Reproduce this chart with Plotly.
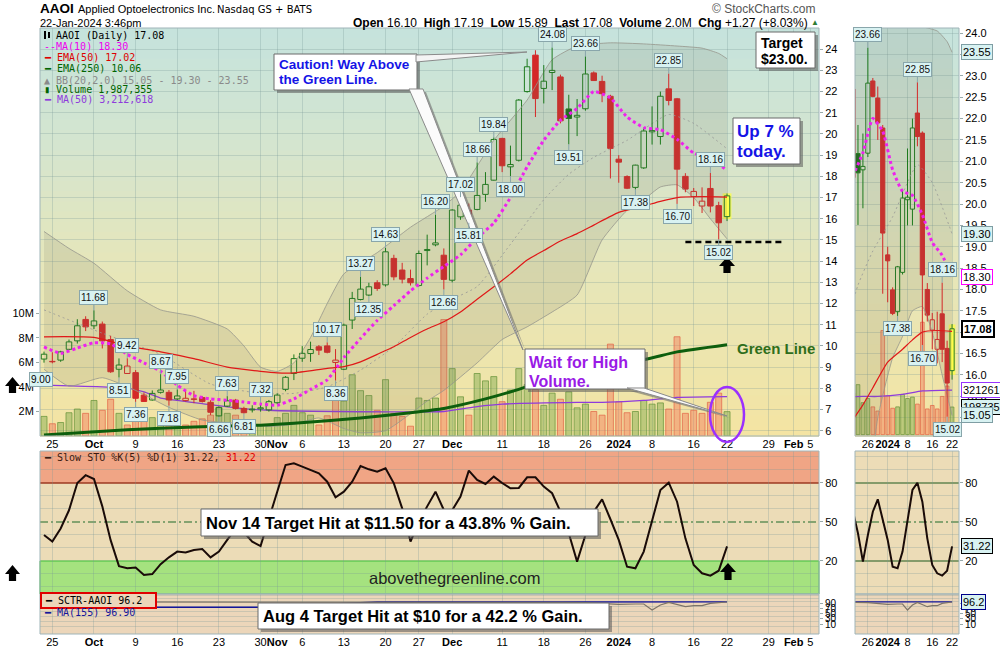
import plotly.graph_objects as go
import pandas as pd

W, H = 1000, 650
SANS = "Liberation Sans, Arial, sans-serif"
MONO = "DejaVu Sans Mono, monospace"
VERD = "DejaVu Sans, Verdana, sans-serif"

# ----------------------------- data -----------------------------
HOLIDAYS = ["2023-11-23", "2023-12-25", "2024-01-01", "2024-01-15"]
DAYS = [d.strftime("%Y-%m-%d") for d in pd.bdate_range("2023-09-22", "2024-02-06")
        if d.strftime("%Y-%m-%d") not in HOLIDAYS]

OPEN = [9.38, 9.27, 9.33, 9.84, 10.24, 11.25, 10.95, 11.03, 10.30, 8.90,
        8.70, 8.74, 7.68, 7.45, 7.81, 7.81, 7.50, 7.42, 7.50, 7.56,
        7.34, 6.70, 7.16, 7.44, 7.05, 6.98, 7.03, 6.98, 7.32, 7.95,
        8.70, 9.42, 9.64, 9.96, 10.00, 9.22, 8.90, 11.22, 12.19, 12.40,
        12.98, 12.88, 14.13, 13.58, 13.18, 12.85, 14.50, 14.77, 14.28, 13.10,
        16.09, 16.41, 16.44, 17.15, 17.82, 19.79, 18.45, 18.76, 22.00, 23.72,
        22.15, 22.90, 22.69, 21.18, 20.80, 21.19, 22.88, 22.48, 21.78, 18.81,
        17.99, 17.48, 18.40, 20.10, 19.88, 22.13, 21.66, 18.00, 17.05, 16.60,
        17.43, 16.62, 16.10]
HIGH = [9.73, 9.70, 9.77, 10.30, 11.26, 11.40, 11.68, 11.15, 10.48, 9.41,
        9.42, 8.86, 7.80, 7.90, 8.67, 7.92, 7.95, 7.90, 7.88, 7.64,
        7.44, 7.15, 7.63, 7.50, 7.13, 7.20, 7.32, 7.45, 7.76, 8.58,
        9.60, 9.99, 10.20, 10.04, 10.17, 9.85, 11.05, 12.55, 13.27, 12.98,
        13.10, 14.63, 14.30, 13.92, 13.60, 14.50, 15.25, 16.20, 14.60, 16.45,
        17.02, 16.72, 18.66, 18.20, 19.84, 19.82, 19.45, 21.65, 23.55, 23.95,
        23.25, 24.08, 22.80, 21.85, 21.65, 23.66, 22.95, 22.75, 21.85, 19.00,
        18.05, 18.55, 20.30, 21.30, 22.00, 22.85, 21.70, 18.15, 17.45, 17.48,
        18.16, 16.80, 17.19]
LOW = [9.21, 9.18, 9.25, 9.80, 10.11, 10.70, 10.80, 9.88, 8.73, 8.51,
       8.68, 7.36, 7.37, 7.42, 7.75, 7.18, 7.45, 7.38, 7.30, 7.33,
       6.74, 6.66, 7.12, 7.00, 6.81, 6.86, 6.90, 6.90, 7.25, 7.86,
       8.39, 9.25, 9.25, 9.57, 9.65, 8.36, 8.86, 10.80, 12.15, 12.35,
       12.60, 12.80, 13.10, 12.95, 12.85, 12.80, 13.80, 14.70, 12.66, 13.00,
       15.95, 15.81, 16.40, 16.80, 17.80, 18.20, 18.00, 18.70, 21.95, 20.80,
       21.44, 22.07, 20.50, 19.51, 19.90, 21.10, 22.50, 21.50, 17.90, 17.70,
       17.40, 17.38, 18.35, 19.50, 19.50, 21.35, 16.70, 17.25, 16.60, 16.27,
       16.30, 15.02, 15.89]
CLOSE = [9.61, 9.25, 9.72, 10.19, 10.95, 10.90, 11.18, 10.24, 8.78, 9.10,
         9.05, 7.53, 7.38, 7.76, 7.92, 7.45, 7.64, 7.53, 7.48, 7.38,
         6.87, 7.10, 7.41, 7.05, 6.85, 7.02, 7.08, 7.37, 7.68, 8.52,
         9.40, 9.65, 9.83, 9.80, 9.70, 9.33, 10.98, 12.24, 12.68, 12.79,
         12.71, 14.44, 13.26, 13.15, 12.98, 14.36, 14.55, 14.86, 13.14, 16.41,
         16.64, 16.09, 17.10, 17.62, 19.74, 18.50, 18.56, 21.60, 23.17, 21.67,
         22.49, 23.00, 20.62, 20.73, 20.88, 22.83, 22.52, 21.90, 19.32, 18.67,
         17.44, 18.53, 20.14, 20.16, 21.78, 21.58, 18.34, 17.40, 17.29, 16.83,
         16.60, 15.81, 17.08]
PREV_CLOSE = 9.45
VOLUME = [1.6, 1.0, 1.1, 1.9, 2.2, 1.85, 2.9, 2.1, 3.0, 1.85,
          0.9, 2.2, 2.3, 1.5, 1.3, 1.05, 1.2, 0.9, 1.2, 1.4,
          1.7, 2.3, 1.85, 1.7, 1.0, 0.6, 0.9, 0.8, 1.5, 1.85,
          2.5, 1.9, 1.7, 0.9, 1.65, 3.8, 2.85, 5.0, 3.7, 3.3,
          2.1, 4.6, 1.85, 1.6, 0.8, 3.1, 2.9, 3.1, 9.5, 5.5,
          3.2, 1.7, 5.1, 4.5, 4.85, 2.8, 3.75, 5.5, 4.2, 3.8,
          2.5, 3.5, 3.0, 3.6, 2.3, 2.6, 2.0, 1.7, 7.5, 2.8,
          1.9, 2.0, 2.9, 2.6, 2.7, 2.2, 8.1, 1.85, 2.1, 1.85,
          2.75, 3.5, 1.987355]  # millions

MA10_IDX = list(range(0, 83, 2))
MA10_VAL = [9.95, 9.65, 9.9, 10.15, 10.1, 9.6, 9.2, 8.8, 8.15, 7.65, 7.5, 7.44, 7.35, 7.26,
            7.2, 7.5, 7.95, 8.4, 9.45, 10.35, 11.2, 11.9, 12.6, 13.2, 13.75, 14.3, 15.1, 15.8,
            17.0, 18.45, 19.7, 20.65, 21.2, 22.0, 21.7, 20.8, 20.3, 20.2, 19.75, 19.1, 18.8, 18.30]
EMA50_IDX = [0, 6, 10, 14, 18, 22, 26, 28, 30, 34, 36, 38, 40, 42, 44, 46, 48, 50, 52, 54,
             56, 58, 60, 62, 64, 66, 69, 72, 74, 76, 79, 82]
EMA50_VAL = [10.43, 10.4, 10.0, 9.72, 9.4, 9.0, 8.8, 8.73, 8.73, 8.94, 9.02, 9.25, 9.6, 9.96,
             10.4, 10.8, 11.14, 11.6, 12.2, 12.79, 13.4, 14.05, 14.5, 14.95, 15.3, 15.7, 16.3,
             16.6, 16.82, 17.0, 17.04, 17.02]
EMA250_IDX = [0, 10, 18, 26, 30, 38, 44, 48, 53, 57, 62, 67, 72, 76, 82]
EMA250_VAL = [5.8, 6.05, 6.18, 6.26, 6.35, 6.6, 6.85, 7.05, 7.5, 7.95, 8.6, 9.1, 9.35, 9.72, 10.06]
BBU_IDX = [0, 3, 6, 10, 14, 18, 22, 24, 26, 28, 30, 32, 34, 36, 40, 44, 48, 50, 54, 58,
           61, 64, 68, 72, 76, 79, 81, 82]
BBU_VAL = [15.4, 14.6, 13.9, 12.6, 11.7, 11.4, 10.8, 10.0, 9.0, 8.8, 9.2, 10.4, 12.0, 13.4,
           14.4, 15.6, 16.6, 17.3, 19.7, 21.6, 23.5, 24.15, 24.3, 24.25, 24.15, 24.05, 23.8, 23.55]
BBL_IDX = [0, 3, 7, 11, 15, 19, 23, 27, 30, 33, 36, 38, 41, 44, 46, 48, 52, 55, 58, 61,
           64, 67, 70, 72, 74, 76, 78, 80, 82]
BBL_VAL = [8.9, 8.1, 8.5, 7.9, 7.1, 6.5, 6.35, 6.2, 6.3, 6.6, 6.1, 5.9, 6.0, 6.8, 7.4, 7.9,
           9.2, 10.3, 10.9, 11.6, 12.4, 15.0, 16.4, 16.9, 17.5, 17.6, 17.0, 16.0, 15.05]
BBM_IDX = [0, 7, 14, 20, 26, 30, 34, 38, 42, 46, 49, 52, 56, 60, 63, 66, 70, 75, 78, 82]
BBM_VAL = [11.7, 10.6, 9.6, 8.2, 7.76, 7.76, 8.07, 8.86, 9.96, 11.5, 12.2, 12.8, 14.8, 16.9,
           18.1, 18.9, 19.7, 20.92, 20.5, 19.30]
VOLMA_IDX = [0, 10, 12, 14, 16, 19, 23, 27, 35, 48, 52, 55, 64, 67, 72, 76, 82]
VOLMA_VAL = [4.15, 3.9, 3.6, 3.1, 2.9, 2.65, 2.3, 2.1, 2.0, 2.0, 2.4, 2.6, 2.75, 2.75, 2.9, 3.15, 3.212618]

STO = [40, 35, 45, 59, 80, 86, 83, 62, 36, 16,
       14.4, 14.9, 9.2, 9.9, 17.5, 22.8, 27.2, 26.6, 28.5, 29.2,
       22.8, 27.2, 36.2, 45, 42, 34.9, 31.5, 51.5, 73.3, 93.8,
       95.1, 92.6, 90.0, 87.4, 81.0, 69.0, 73.3, 81.0, 93.1, 90.5,
       88.7, 91.3, 79.7, 60.5, 34.9, 50, 62, 73.3, 59.2, 59,
       69.5, 89.5, 82.3, 79.2, 84.9, 80.0, 75.9, 76.2, 84.4, 84.4,
       77.2, 72.1, 57.9, 41.3, 19.5, 40, 57.9, 67.4, 52.1, 36.2,
       15.6, 14.4, 27.2, 50.2, 74.6, 80.2, 65.6, 37.4, 16.9, 10.5,
       8.7, 12.5, 31.22]
SCTR_IDX = [0, 6, 14, 18, 21, 24, 28, 32, 36, 40, 44, 48, 52, 55, 58, 62, 65, 67, 69, 71,
            72, 73, 74, 75, 76, 77, 78, 79, 80, 81, 82]
SCTR_VAL = [97, 97, 97, 96.5, 95, 96, 96, 97, 96, 96.5, 97, 96, 97, 97.5, 97, 95, 93.6, 91,
            87, 88.4, 88.4, 64.9, 84.4, 94.9, 86, 77.9, 81.8, 81.8, 91, 93.6, 96.2]
MA155_IDX = [0, 26, 40, 60, 82]
MA155_VAL = [75.5, 75.5, 96.0, 96.6, 96.9]

TICK_DATES = ["2023-09-25", "2023-10-02", "2023-10-09", "2023-10-16", "2023-10-23", "2023-10-30",
              "2023-11-01", "2023-11-06", "2023-11-13", "2023-11-20", "2023-11-27", "2023-12-01",
              "2023-12-11", "2023-12-18", "2023-12-26", "2024-01-02", "2024-01-08", "2024-01-16",
              "2024-01-22", "2024-01-29", "2024-02-01", "2024-02-05"]
TICK_TEXT = ["25", "<b>Oct</b>", "9", "16", "23", "30", "<b>Nov</b>", "6", "13", "20", "27",
             "<b>Dec</b>", "11", "18", "26", "<b>2024</b>", "8", "16", "22", "29", "<b>Feb</b>", "5"]
ZOOM_TICK_DATES = ["2023-12-26", "2024-01-02", "2024-01-08", "2024-01-16", "2024-01-22"]
ZOOM_TICK_TEXT = ["26", "<b>2024</b>", "8", "16", "22"]

HIGH_LABELS = [6, 10, 14, 16, 22, 26, 34, 38, 41, 47, 50, 52, 54, 61, 65, 75, 80]
LOW_LABELS = [9, 11, 15, 21, 24, 35, 39, 48, 51, 56, 63, 71, 76, 81]
ZOOM_HIGH_LABELS = [65, 75, 80]
ZOOM_LOW_LABELS = [71, 76, 81]

SUPPORT_LEVEL = 14.9
SUPPORT_FROM = DAYS.index("2024-01-12")
SUPPORT_TO = DAYS.index("2024-01-31")

# ----------------------------- helpers -----------------------------
N = len(CLOSE)
XI = list(range(N))
TICKS = [DAYS.index(d) for d in TICK_DATES]
ZTICKS = [DAYS.index(d) for d in ZOOM_TICK_DATES]

fig = go.Figure()


def prev_close(i):
    return CLOSE[i - 1] if i > 0 else PREV_CLOSE


def add_volume(xa, ya, width):
    cols, lcols = [], []
    for i in XI:
        if CLOSE[i] > prev_close(i):
            cols.append("rgba(125,168,75,0.45)"); lcols.append("rgba(100,145,55,0.7)")
        else:
            cols.append("rgba(242,120,88,0.45)"); lcols.append("rgba(225,100,70,0.7)")
    fig.add_trace(go.Bar(x=XI, y=VOLUME, width=width,
                         marker=dict(color=cols, line=dict(color=lcols, width=1)),
                         xaxis=xa, yaxis=ya, hoverinfo="skip"))


def add_line(xs, ys, xa, ya, color, width, dash=None, fill=None, fillcolor=None, shape="spline"):
    fig.add_trace(go.Scatter(x=xs, y=ys, mode="lines",
                             line=dict(color=color, width=width, dash=dash, shape=shape, smoothing=0.5),
                             fill=fill, fillcolor=fillcolor, xaxis=xa, yaxis=ya, hoverinfo="skip"))


def add_candles(xa, ya, width, glow):
    last = N - 1
    top, bot = max(OPEN[last], CLOSE[last]), min(OPEN[last], CLOSE[last])
    fig.add_trace(go.Bar(x=[last], y=[top - bot + 2 * glow], base=[bot - glow], width=width * 1.6,
                         marker=dict(color="rgba(255,255,60,0.75)", line=dict(width=0)),
                         xaxis=xa, yaxis=ya, hoverinfo="skip"))
    groups = {}
    for i in XI:
        o, h, l, c = OPEN[i], HIGH[i], LOW[i], CLOSE[i]
        up = c > prev_close(i)
        hollow = c >= o
        col = "#1d7a1d" if up else "#d42828"
        if i == last:
            key = ("#ffff4a", "#2a7a2a")
        else:
            fill = "rgba(0,0,0,0)" if hollow else ("#1b661b" if up else "#d42828")
            key = (fill, col)
        g = groups.setdefault(key, dict(x=[], y=[], base=[], wx=[], wy=[]))
        t, b = max(o, c), min(o, c)
        g["x"].append(i); g["base"].append(b); g["y"].append(max(t - b, 0.02))
        g["wx"] += [i, i, None, i, i, None]
        g["wy"] += [h, t, None, b, l, None]
    for (fill, col), g in groups.items():
        fig.add_trace(go.Scatter(x=g["wx"], y=g["wy"], mode="lines", line=dict(color=col, width=1),
                                 xaxis=xa, yaxis=ya, hoverinfo="skip"))
        fig.add_trace(go.Bar(x=g["x"], y=g["y"], base=g["base"], width=width,
                             marker=dict(color=fill, line=dict(color=col, width=1)),
                             xaxis=xa, yaxis=ya, hoverinfo="skip"))


def price_overlays(xa, ya, va, candle_w, glow):
    add_line(VOLMA_IDX, VOLMA_VAL, xa, va, "#8e3bdc", 1.3)
    add_line(BBU_IDX, BBU_VAL, xa, ya, "rgba(150,150,140,0.8)", 1)
    add_line(BBL_IDX, BBL_VAL, xa, ya, "rgba(150,150,140,0.8)", 1, fill="tonexty",
             fillcolor="rgba(110,110,95,0.14)")
    add_line(BBM_IDX, BBM_VAL, xa, ya, "rgba(150,150,150,0.8)", 1, dash="2px,3px")
    add_line(EMA250_IDX, EMA250_VAL, xa, ya, "#0d5e0d", 3)
    add_line(EMA50_IDX, EMA50_VAL, xa, ya, "#e01818", 1.2)
    add_candles(xa, ya, candle_w, glow)
    add_line(MA10_IDX, MA10_VAL, xa, ya, "#ee22ee", 3, dash="3px,3px")


add_volume("x", "y", 0.72)
price_overlays("x", "y2", "y", 0.66, 0.12)
add_volume("x4", "y5", 0.75)
price_overlays("x4", "y6", "y5", 0.85, 0.1)

for xa, ya in (("x2", "y3"), ("x5", "y7")):
    fig.add_trace(go.Scatter(x=XI, y=STO, mode="lines", line=dict(color="#1a0b08", width=2),
                             xaxis=xa, yaxis=ya, hoverinfo="skip"))
for xa, ya in (("x3", "y4"), ("x6", "y8")):
    add_line(MA155_IDX, MA155_VAL, xa, ya, "#15159a", 1.4, shape="linear")
    add_line(SCTR_IDX, SCTR_VAL, xa, ya, "#7d7468", 1.2, shape="linear")

# ----------------------------- layout -----------------------------
MAIN_X = [40 / W, 819 / W]
ZOOM_X = [855 / W, 959 / W]
MAIN_Y = [1 - 436 / H, 1 - 28 / H]
STO_Y = [1 - 594 / H, 1 - 451 / H]
SCTR_Y = [1 - 634 / H, 1 - 594 / H]
XR = [-0.48, 93.04]
ZR = [62.4, 83.4]
GRID = "rgba(120,150,150,0.28)"
TF = dict(size=11, family=SANS, color="#000")


def xax(domain, anchor, rng, tv, tt, labels):
    return dict(domain=domain, anchor=anchor, range=rng, tickvals=tv, ticktext=tt,
                showticklabels=labels, ticks="", showgrid=True, gridcolor=GRID, gridwidth=1,
                zeroline=False, showline=False, tickfont=TF, fixedrange=True, automargin=False,
                tickangle=0)


def yax(domain, anchor, rng, tv, tt=None, side="right", grid=False, labels=True, size=11,
        overlaying=None, minor=None):
    d = dict(anchor=anchor, range=rng, tickvals=tv, side=side, showgrid=grid, gridcolor=GRID,
             zeroline=False, showline=False, ticks="outside" if labels else "", ticklen=3,
             tickcolor="#9aa", showticklabels=labels, tickfont=dict(size=size, family=SANS, color="#000"),
             fixedrange=True, automargin=False, tickangle=0)
    if tt is not None:
        d["ticktext"] = tt
    if overlaying:
        d["overlaying"] = overlaying
    else:
        d["domain"] = domain
    if minor:
        d["minor"] = dict(tickvals=minor, showgrid=True, gridcolor=GRID, ticks="")
    return d


ZP = [15.0 + 0.5 * k for k in range(19)]
fig.update_layout(
    width=W, height=H, margin=dict(l=0, r=0, t=0, b=0, autoexpand=False), paper_bgcolor="white",
    plot_bgcolor="rgba(0,0,0,0)", showlegend=False, barmode="overlay", hovermode=False,
    font=dict(family=SANS, size=11, color="#000"),
    xaxis=xax(MAIN_X, "y", XR, TICKS, TICK_TEXT, True),
    xaxis2=xax(MAIN_X, "y3", XR, TICKS, TICK_TEXT, False),
    xaxis3=xax(MAIN_X, "y4", XR, TICKS, TICK_TEXT, True),
    xaxis4=xax(ZOOM_X, "y5", ZR, ZTICKS, ZOOM_TICK_TEXT, True),
    xaxis5=xax(ZOOM_X, "y7", ZR, ZTICKS, ZOOM_TICK_TEXT, False),
    xaxis6=xax(ZOOM_X, "y8", ZR, ZTICKS, ZOOM_TICK_TEXT, True),
    yaxis=yax(MAIN_Y, "x", [0, 33.3], [2, 4, 6, 8, 10], ["2M", "4M", "6M", "8M", "10M"], side="left"),
    yaxis2=yax(None, "x", [5.75, 25.0], list(range(6, 25)), grid=True, overlaying="y"),
    yaxis3=yax(STO_Y, "x2", [-5.4, 104.6], [20, 50, 80], minor=[0, 10, 30, 40, 60, 70, 90, 100]),
    yaxis4=yax(SCTR_Y, "x3", [-29, 127.6], [10, 30, 50, 70, 90], size=10,
               minor=[0, 20, 40, 60, 80, 100, 110, 120]),
    yaxis5=yax(MAIN_Y, "x4", [-0.1, 29.3], [], labels=False),
    yaxis6=yax(None, "x4", [14.57, 24.12], ZP, [f"{v:.1f}" for v in ZP], grid=True, overlaying="y5"),
    yaxis7=yax(STO_Y, "x5", [-5.4, 104.6], [20, 50, 80], minor=[0, 10, 30, 40, 60, 70, 90, 100]),
    yaxis8=yax(SCTR_Y, "x6", [-29, 127.6], [10, 30, 50, 70, 90], size=10,
               minor=[0, 20, 40, 60, 80, 100, 110, 120]),
)


# ----------------------------- shapes -----------------------------
def rect(x0, y0, x1, y1, fill, lc=None, lw=0, layer="above"):
    return dict(type="rect", xref="paper", yref="paper", x0=x0 / W, x1=x1 / W, y0=1 - y1 / H,
                y1=1 - y0 / H, fillcolor=fill, line=dict(color=lc or "rgba(0,0,0,0)", width=lw),
                layer=layer)


def poly(pts, fill, lc=None, lw=0, layer="above"):
    path = "M " + " L ".join(f"{x / W:.5f},{1 - y / H:.5f}" for x, y in pts) + " Z"
    return dict(type="path", xref="paper", yref="paper", path=path, fillcolor=fill,
                line=dict(color=lc or "rgba(0,0,0,0)", width=lw), layer=layer)


STOPS = [(28, (197, 227, 221)), (150, (213, 229, 206)), (260, (229, 230, 187)), (436, (244, 228, 162))]


def lerp(y):
    for (y0, c0), (y1, c1) in zip(STOPS, STOPS[1:]):
        if y0 <= y <= y1:
            t = (y - y0) / (y1 - y0)
            return "rgb(%d,%d,%d)" % tuple(round(a + (b - a) * t) for a, b in zip(c0, c1))
    return "rgb(%d,%d,%d)" % STOPS[-1][1]


def gradient(x0, x1, y0, y1, n=40):
    out = []
    step = (y1 - y0) / n
    for k in range(n):
        ya = y0 + k * step
        out.append(rect(x0, ya, x1, ya + step + 0.7, lerp(ya + step / 2), layer="below"))
    return out


def up_arrow(cx, top, bottom, hw=8, sw=3.6, head=9):
    return poly([(cx, top), (cx + hw, top + head), (cx + sw, top + head), (cx + sw, bottom),
                 (cx - sw, bottom), (cx - sw, top + head), (cx - hw, top + head)], "#000")


def hline(xref, yref, y, color, width, dash=None, x0=0, x1=1):
    return dict(type="line", xref=xref, yref=yref, x0=x0, x1=x1, y0=y, y1=y,
                line=dict(color=color, width=width, dash=dash), layer="below")


def callout(x0, y0, x1, y1):
    return [rect(x0 + 3, y0 + 3, x1 + 3, y1 + 3, "rgba(90,90,90,0.55)"),
            rect(x0, y0, x1, y1, "white", "#6a6a6a", 1)]


S = []
S += gradient(40, 819, 28, 436)
S += gradient(855, 959, 28, 436)
for x0, x1 in ((40, 819), (855, 959)):
    S.append(rect(x0, 451, x1, 594, "#ecdcb7", layer="below"))
    S.append(rect(x0, 594, x1, 634, "#ecd6ba", layer="below"))
S.append(dict(type="rect", xref="x2 domain", yref="y3", x0=0, x1=1, y0=80, y1=104.6,
              fillcolor="#f0a585", line=dict(width=0), layer="below"))
S.append(dict(type="rect", xref="x2 domain", yref="y3", x0=0, x1=1, y0=-5.4, y1=20,
              fillcolor="#a5e27f", line=dict(color="#3dbb3d", width=1), layer="below"))
S.append(hline("x2 domain", "y3", 80, "#9c3a22", 1.4))
S.append(hline("x2 domain", "y3", 50, "#1f6b2a", 1.2, "8px,3px,2px,3px"))
S.append(hline("x5 domain", "y7", 80, "#1f5a1f", 1.2))
S.append(hline("x5 domain", "y7", 20, "#1f5a1f", 1.2))
S.append(hline("x5 domain", "y7", 50, "#1f6b2a", 1.2, "8px,3px,2px,3px"))
for x0, x1 in ((40, 819), (855, 959)):
    S.append(rect(x0, 28, x1, 436, "rgba(0,0,0,0)", "#9fb4b8", 1))
    S.append(rect(x0, 451, x1, 634, "rgba(0,0,0,0)", "#9fb4b8", 1))
    S.append(rect(x0, 594, x1, 594.01, "rgba(0,0,0,0)", "#9fb4b8", 1))
S.append(dict(type="line", xref="x", yref="y2", x0=SUPPORT_FROM, x1=SUPPORT_TO, y0=SUPPORT_LEVEL,
              y1=SUPPORT_LEVEL, line=dict(color="#000", width=2.5, dash="6px,4px"), layer="above"))
S += callout(274, 54, 417, 90)
S.append(poly([(416, 55), (527, 52), (416, 62)], "#f4f4f4", "#8a8a8a", 1))
S.append(poly([(413, 92), (426, 92), (526, 352)], "rgba(110,110,110,0.6)"))
S.append(poly([(409, 89), (423, 89), (523, 350)], "#fbfbfb", "#8a8a8a", 1))
S += callout(756, 32, 815, 68)
S += callout(733, 118, 800, 164)
S += callout(525, 349, 645, 389)
S.append(poly([(630, 391), (647, 391), (730, 418)], "rgba(110,110,110,0.6)"))
S.append(poly([(627, 388), (644, 388), (727, 416)], "#fbfbfb", "#8a8a8a", 1))
S += callout(201, 509, 598, 536)
S += callout(258, 603, 609, 629)
S.append(rect(41, 593, 156, 608, "#ecd6ba", "#e00000", 2))
S.append(dict(type="circle", xref="paper", yref="paper", x0=710 / W, x1=744 / W, y0=1 - 442 / H,
              y1=1 - 387 / H, line=dict(color="#9b30ff", width=2.5), layer="above"))
S.append(up_arrow(727, 257, 273))
S.append(up_arrow(728, 563, 580))
S.append(up_arrow(12.5, 377, 393, hw=7.5))
S.append(up_arrow(12.5, 565, 581, hw=7.5))
S.append(rect(44, 31, 46, 39, "#000"))
S.append(rect(48, 32, 50, 38, "#000"))
fig.update_layout(shapes=S)

# ----------------------------- annotations -----------------------------
A = []


def txt(t, x, y, size, color="#000", family=SANS, xanchor="left", **kw):
    A.append(dict(text=t, x=x / W, y=1 - y / H, xref="paper", yref="paper", xanchor=xanchor,
                  yanchor="middle", showarrow=False, font=dict(size=size, color=color, family=family), **kw))


chg = CLOSE[-1] - CLOSE[-2]
pct = chg / CLOSE[-2] * 100
txt("<b>AAOI</b>", 38, 9, 13.5)
txt("Applied Optoelectronics Inc.", 76, 9.5, 11)
txt("Nasdaq GS + BATS", 215, 10, 10, family=VERD)
txt("22-Jan-2024 3:46pm", 38, 23, 11)
sp = "&#160; "
txt(f"<b>Open</b> {OPEN[-1]:.2f}{sp}<b>High</b> {HIGH[-1]:.2f}{sp}<b>Low</b> {LOW[-1]:.2f}{sp}"
    f"<b>Last</b> {CLOSE[-1]:.2f}{sp}<b>Volume</b> {VOLUME[-1]:.1f}M{sp}<b>Chg</b> {chg:+.2f} ({pct:+.2f}%)",
    810, 23, 12, xanchor="right")
txt("▲", 815, 22, 8, color="#2e7d32", xanchor="center")
txt("© StockCharts.com", 818, 9, 12, color="#555", xanchor="right")

LEG_Y = [35, 46.3, 57.3, 68.7, 80, 90, 99.3]
txt(f"AAOI (Daily) {CLOSE[-1]:.2f}", 54, LEG_Y[0], 10, family=MONO)
txt(f"--MA(10) {MA10_VAL[-1]:.2f}", 42, LEG_Y[1], 10, color="#ee00ee", family=MONO)
txt(f"━ EMA(50) {EMA50_VAL[-1]:.2f}", 42, LEG_Y[2], 10, color="#dd0000", family=MONO)
txt(f"━ EMA(250) {EMA250_VAL[-1]:.2f}", 42, LEG_Y[3], 10, color="#006400", family=MONO)
txt(f"▲ BB(20,2.0) {BBL_VAL[-1]:.2f} - {BBM_VAL[-1]:.2f} - {BBU_VAL[-1]:.2f}", 42, LEG_Y[4], 10,
    color="#8a8a8a", family=MONO)
txt(f"▮ Volume {VOLUME[-1] * 1e6:,.0f}", 42, LEG_Y[5], 10, color="#006400", family=MONO)
txt(f"━ MA(50) {VOLMA_VAL[-1] * 1e6:,.0f}", 42, LEG_Y[6], 10, color="#8e3bdc", family=MONO)
txt(f"━ Slow STO %K(5) %D(1) {STO[-1]:.2f}, <span style='color:#e00000'>{STO[-1]:.2f}</span>",
    42, 457, 10, color="#3a1a10", family=MONO)
txt(f"━ SCTR-AAOI {SCTR_VAL[-1]:.1f}", 43, 600.5, 10, family=MONO)
txt(f"━ MA(155) {MA155_VAL[-1]:.2f}", 42, 612, 10, color="#15159a", family=MONO)

BLUE = "#1414e6"
txt("<b>Caution! Way Above</b>", 277, 64, 13.5, color=BLUE)
txt("<b>the Green Line.</b>", 277, 79, 13.5, color=BLUE)
txt("<b>Target</b>", 759, 43, 14)
txt("<b>$23.00.</b>", 759, 59, 14)
txt("<b>Up 7 %</b>", 735, 131, 17, color=BLUE)
txt("<b>today.</b>", 735, 152, 17, color=BLUE)
txt("<b>Wait for High</b>", 527, 362, 16, color="#9a1ae6")
txt("<b>Volume.</b>", 527, 381, 16, color="#9a1ae6")
txt("<b>Green Line</b>", 735, 348, 15, color="#2f6e1b")
txt("<b>Nov 14 Target Hit at $11.50 for a 43.8% % Gain.</b>", 204, 522.5, 16.5)
txt("<b>Aug 4 Target Hit at $10 for a 42.2 % Gain.</b>", 261, 616, 16.5)
txt("abovethegreenline.com", 455, 578, 16.5, color="#222", xanchor="center")
txt("9.00", 40.5, 379, 10, xanchor="center", bgcolor="#d8f2f2", bordercolor="#89a6ab",
    borderwidth=1, borderpad=1)

LBL = dict(showarrow=True, arrowhead=0, arrowwidth=1, arrowcolor="#89a6ab", ax=0,
           bgcolor="#d8f2f2", bordercolor="#89a6ab", borderwidth=1, borderpad=1,
           font=dict(size=10, family=SANS, color="#111"))


def price_label(i, above, xref, yref):
    v = HIGH[i] if above else LOW[i]
    A.append(dict(x=i, y=v, xref=xref, yref=yref, text=f"{v:.2f}", ay=-13 if above else 13, **LBL))


for i in HIGH_LABELS:
    price_label(i, True, "x", "y2")
for i in LOW_LABELS:
    price_label(i, False, "x", "y2")
for i in ZOOM_HIGH_LABELS:
    price_label(i, True, "x4", "y6")
for i in ZOOM_LOW_LABELS:
    price_label(i, False, "x4", "y6")


def side_box(text, y, yref, bg="#d8f2f2", bc="#7f9ea4", bw=1, bold=False):
    A.append(dict(text=f"<b>{text}</b>" if bold else text, x=961 / W, y=y, xref="paper", yref=yref,
                  xanchor="left", yanchor="middle", showarrow=False, bgcolor=bg, bordercolor=bc,
                  borderwidth=bw, borderpad=1, font=dict(size=11, family=SANS, color="#000")))


side_box(f"{BBU_VAL[-1]:.2f}", BBU_VAL[-1], "y6")
side_box(f"{BBM_VAL[-1]:.2f}", BBM_VAL[-1], "y6")
side_box(f"{MA10_VAL[-1]:.2f}", MA10_VAL[-1], "y6", bg="white", bc="#ff00ff")
side_box(f"{CLOSE[-1]:.2f}", CLOSE[-1], "y6", bg="white", bc="#000", bw=2, bold=True)
side_box(f"{VOLMA_VAL[-1] * 1e6:.0f}", VOLMA_VAL[-1], "y5", bg="white", bc="#9933ff")
side_box(f"{VOLUME[-1] * 1e6:.0f}", VOLUME[-1], "y5", bc="#000")
side_box(f"{BBL_VAL[-1]:.2f}", BBL_VAL[-1], "y6")
side_box(f"{STO[-1]:.2f}", STO[-1], "y7", bc="#000")
side_box(f"{SCTR_VAL[-1]:.1f}", SCTR_VAL[-1], "y8", bc="#00008b")

fig.update_layout(annotations=A)
fig.write_html("out.html", config={"displayModeBar": False},
               post_script="document.body.style.margin='0';document.body.style.padding='0';")
